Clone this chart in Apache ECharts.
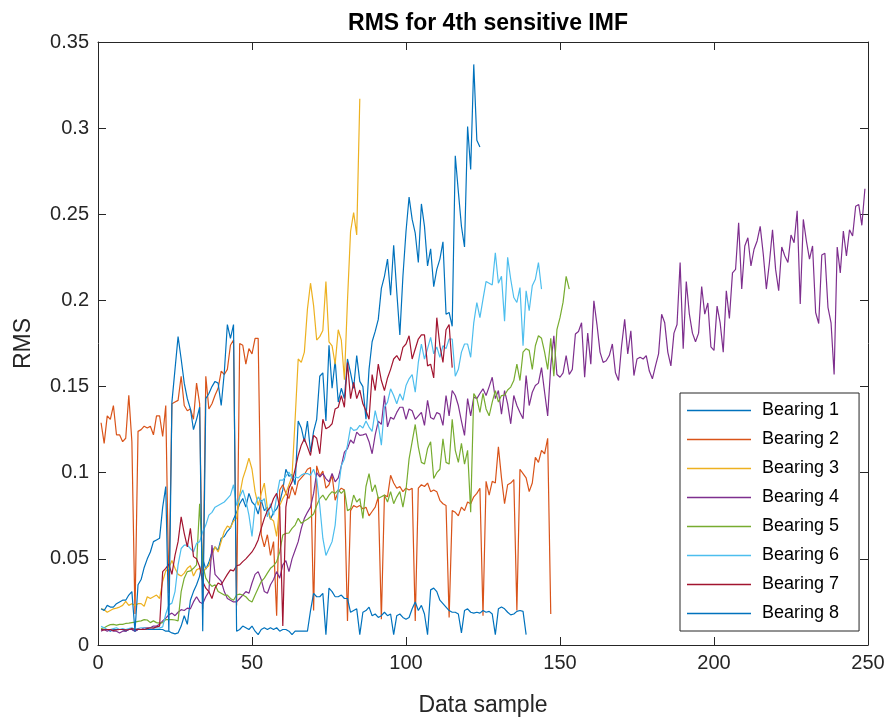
<!DOCTYPE html>
<html>
<head>
<meta charset="utf-8">
<script src="https://cdn.jsdelivr.net/npm/echarts@6/dist/echarts.min.js"></script>
<style>html,body{margin:0;padding:0;background:#fff}#c{width:892px;height:722px}</style>
</head>
<body>
<div id="c"></div>
<script>
const seriesNames = ['Bearing 1','Bearing 2','Bearing 3','Bearing 4','Bearing 5','Bearing 6','Bearing 7','Bearing 8'];
const xTicks = [0, 50, 100, 150, 200, 250];
const yTicks = [0, 0.05, 0.1, 0.15, 0.2, 0.25, 0.3, 0.35];

const bearing1 = [0.009,0.009,0.009,0.008,0.009,0.009,0.009,0.009,0.008,0.009,0.009,0.008,0.009,0.009,0.009,0.009,0.009,0.009,0.009,0.009,
0.009,0.008,0.008,0.007,0.0065,0.007,0.011,0.017,0.012,0.026,
0.031,0.035,0.040,0.050,0.044,0.048,0.054,0.057,0.055,0.062,
0.063,0.066,0.068,0.073,0.077,0.082,0.085,0.080,0.088,0.083,
0.081,0.076,0.084,0.078,0.080,0.073,0.077,0.079,0.083,0.090,
0.102,0.098,0.099,0.093,0.130,0.126,0.118,0.130,0.112,0.124,
0.131,0.156,0.158,0.130,0.174,0.149,0.165,0.141,0.149,0.143,
0.166,0.158,0.149,0.168,0.153,0.150,0.131,0.160,0.176,0.182,
0.189,0.207,0.214,0.224,0.203,0.232,0.205,0.180,0.214,0.240,
0.260,0.247,0.239,0.222,0.256,0.243,0.220,0.230,0.208,0.218,
0.224,0.234,0.192,0.193,0.185,0.284,0.263,0.243,0.231,0.301,
0.276,0.337,0.293,0.289];

const bearing2 = [0.129,0.117,0.133,0.131,0.139,0.122,0.122,0.118,0.120,0.145,
0.118,0.018,0.124,0.125,0.127,0.126,0.127,0.122,0.133,0.133,
0.121,0.139,0.030,0.140,0.141,0.142,0.156,0.139,0.136,0.137,
0.131,0.152,0.140,0.021,0.156,0.137,0.140,0.145,0.149,0.159,
0.157,0.160,0.174,0.177,0.023,0.175,0.174,0.163,0.172,0.169,
0.178,0.178,0.064,0.057,0.064,0.052,0.060,0.017,0.090,0.093,
0.088,0.085,0.092,0.087,0.095,0.097,0.099,0.102,0.103,0.020,
0.104,0.098,0.101,0.091,0.093,0.0985,0.084,0.089,0.091,0.090,
0.014,0.078,0.081,0.080,0.081,0.079,0.080,0.075,0.0775,0.080,
0.086,0.015,0.087,0.086,0.0985,0.094,0.091,0.092,0.089,0.091,
0.090,0.091,0.014,0.091,0.093,0.092,0.094,0.089,0.090,0.089,
0.084,0.082,0.081,0.016,0.078,0.077,0.075,0.080,0.078,0.083,
0.082,0.086,0.088,0.091,0.017,0.095,0.087,0.095,0.094,0.115,
0.097,0.082,0.093,0.094,0.096,0.020,0.102,0.0995,0.097,0.089,
0.094,0.109,0.106,0.113,0.111,0.120,0.018];

const bearing3 = [0.021,0.0205,0.019,0.020,0.021,0.0214,0.022,0.023,0.0253,0.023,
0.024,0.023,0.024,0.024,0.0225,0.028,0.027,0.028,0.029,0.027,
0.037,0.043,0.0445,0.049,0.0445,0.041,0.040,0.0417,0.0445,0.046,
0.040,0.0436,0.0445,0.042,0.0445,0.046,0.052,0.057,0.054,0.060,
0.066,0.069,0.068,0.072,0.0735,0.087,0.0966,0.102,0.1085,0.102,
0.089,0.081,0.088,0.094,0.079,0.0735,0.072,0.063,0.081,0.085,
0.088,0.093,0.098,0.131,0.166,0.164,0.170,0.195,0.210,0.197,
0.177,0.179,0.1825,0.211,0.176,0.1736,0.163,0.183,0.177,0.154,
0.200,0.240,0.251,0.238,0.317];

const bearing4 = [0.008,0.009,0.008,0.009,0.008,0.008,0.007,0.008,0.008,0.009,
0.009,0.008,0.009,0.009,0.010,0.010,0.010,0.011,0.011,0.012,
0.014,0.0156,0.0175,0.0185,0.017,0.019,0.0205,0.020,0.0214,0.021,
0.025,0.028,0.025,0.024,0.028,0.031,0.058,0.041,0.039,0.037,
0.031,0.027,0.026,0.025,0.025,0.027,0.029,0.031,0.030,0.036,
0.041,0.0426,0.038,0.031,0.030,0.035,0.038,0.0426,0.0388,0.0465,
0.049,0.0426,0.050,0.055,0.060,0.0677,0.0735,0.077,0.080,0.088,
0.100,0.0975,0.0995,0.0966,0.0947,0.0995,0.0947,0.097,0.104,0.112,
0.114,0.119,0.117,0.1236,0.1217,0.122,0.1226,0.118,0.111,0.122,
0.130,0.128,0.1448,0.1266,0.1322,0.131,0.135,0.138,0.138,0.131,
0.137,0.136,0.131,0.133,0.135,0.1275,0.142,0.132,0.131,0.135,
0.134,0.1275,0.1448,0.133,0.1477,0.1448,0.139,0.130,0.1217,0.143,
0.133,0.1439,0.143,0.146,0.1487,0.1448,0.150,0.1554,0.143,0.1477,
0.134,0.1477,0.140,0.1284,0.1448,0.139,0.135,0.1313,0.1564,0.139,
0.1467,0.1506,0.152,0.161,0.1467,0.133,0.162,0.1795,0.157,0.1554,
0.158,0.168,0.157,0.160,0.1805,0.182,0.187,0.1554,0.181,0.163,
0.1998,0.186,0.170,0.164,0.165,0.168,0.1747,0.158,0.1535,0.1737,
0.189,0.169,0.1824,0.1564,0.166,0.167,0.166,0.168,0.159,0.1545,
0.162,0.169,0.192,0.187,0.170,0.162,0.181,0.186,0.222,0.172,
0.211,0.192,0.181,0.176,0.181,0.208,0.192,0.1985,0.173,0.171,
0.1967,0.187,0.170,0.2056,0.1896,0.216,0.218,0.245,0.2066,0.2316,
0.2364,0.220,0.2297,0.2345,0.243,0.2268,0.2066,0.222,0.241,0.218,
0.2056,0.231,0.2258,0.222,0.238,0.2335,0.252,0.198,0.247,0.2345,
0.224,0.2316,0.193,0.1866,0.2264,0.2274,0.196,0.187,0.157,0.231,
0.216,0.2403,0.2258,0.241,0.2374,0.2547,0.2557,0.2436,0.2648];

const bearing5 = [0.0095,0.010,0.011,0.0118,0.012,0.0115,0.012,0.012,0.0125,0.0127,
0.013,0.0133,0.0137,0.014,0.0147,0.0145,0.013,0.014,0.013,0.0127,
0.013,0.0147,0.0147,0.0147,0.0145,0.014,0.031,0.0388,0.0426,0.043,
0.0445,0.0465,0.082,0.0465,0.0388,0.036,0.034,0.035,0.031,0.030,
0.029,0.029,0.027,0.026,0.029,0.0295,0.029,0.028,0.026,0.025,
0.029,0.033,0.0368,0.0388,0.0417,0.0445,0.046,0.0484,0.054,0.0638,
0.0648,0.065,0.0677,0.0696,0.0735,0.0706,0.072,0.073,0.0744,0.076,
0.081,0.085,0.087,0.084,0.087,0.089,0.088,0.090,0.088,0.090,
0.078,0.079,0.087,0.083,0.085,0.0735,0.092,0.0995,0.089,0.093,
0.085,0.086,0.087,0.083,0.089,0.082,0.086,0.089,0.080,0.090,
0.108,0.118,0.128,0.115,0.106,0.105,0.114,0.118,0.0966,0.100,
0.102,0.1197,0.106,0.105,0.131,0.113,0.106,0.117,0.105,0.113,
0.077,0.146,0.143,0.135,0.146,0.137,0.133,0.141,0.1477,0.141,
0.1448,0.145,0.148,0.1497,0.1535,0.163,0.1535,0.170,0.172,0.171,
0.160,0.1737,0.1795,0.178,0.170,0.160,0.178,0.156,0.183,0.190,
0.199,0.214,0.2066];

const bearing6 = [0.0108,0.010,0.009,0.009,0.0095,0.010,0.009,0.0095,0.009,0.0095,
0.010,0.009,0.0095,0.010,0.010,0.0095,0.010,0.0098,0.010,0.0098,
0.0105,0.018,0.0233,0.0243,0.031,0.0465,0.056,0.058,0.058,0.056,
0.054,0.059,0.060,0.0657,0.0696,0.0754,0.077,0.080,0.081,0.082,
0.083,0.085,0.087,0.093,0.081,0.086,0.090,0.084,0.0754,0.063,
0.081,0.086,0.083,0.085,0.0744,0.082,0.0754,0.086,0.0957,0.0957,
0.098,0.1004,0.0966,0.0976,0.097,0.0986,0.0995,0.0995,0.0986,0.102,
0.0966,0.081,0.062,0.052,0.056,0.060,0.0696,0.090,0.104,0.108,
0.116,0.1265,0.1246,0.125,0.1275,0.126,0.130,0.1265,0.124,0.136,
0.128,0.116,0.138,0.141,0.1487,0.1448,0.140,0.1458,0.142,0.1506,
0.1545,0.157,0.1467,0.164,0.1747,0.166,0.172,0.1786,0.169,0.173,
0.167,0.1737,0.172,0.1776,0.1776,0.156,0.160,0.170,0.1747,0.1747,
0.167,0.187,0.1988,0.190,0.2007,0.211,0.210,0.209,0.2277,0.210,
0.214,0.188,0.225,0.2123,0.2017,0.1988,0.2075,0.1737,0.2056,0.194,
0.2085,0.2123,0.222,0.2066];

const bearing7 = [0.0088,0.0088,0.009,0.009,0.0085,0.0088,0.009,0.009,0.0088,0.009,
0.0095,0.009,0.0092,0.009,0.009,0.0095,0.010,0.0098,0.0105,0.011,
0.0426,0.0445,0.047,0.041,0.052,0.060,0.0744,0.0648,0.057,0.0677,
0.0513,0.050,0.0455,0.0368,0.033,0.031,0.027,0.033,0.036,0.035,
0.038,0.041,0.0436,0.043,0.046,0.0465,0.0484,0.050,0.052,0.054,
0.057,0.061,0.0677,0.0735,0.078,0.080,0.085,0.088,0.080,0.011,
0.080,0.091,0.0947,0.102,0.110,0.116,0.1197,0.115,0.110,0.1217,
0.120,0.111,0.131,0.1255,0.1265,0.1284,0.137,0.138,0.1448,0.138,
0.164,0.143,0.1525,0.143,0.148,0.140,0.136,0.131,0.157,0.1477,
0.163,0.1535,0.1477,0.155,0.160,0.166,0.168,0.165,0.1728,0.1747,
0.1795,0.166,0.1718,0.1776,0.180,0.180,0.162,0.163,0.155,0.190,
0.1737,0.164,0.183,0.186,0.161];

const bearing8 = [0.021,0.020,0.023,0.022,0.022,0.024,0.025,0.026,0.026,0.029,
0.031,0.008,0.035,0.038,0.045,0.050,0.054,0.060,0.061,0.062,
0.080,0.092,0.008,0.141,0.160,0.179,0.166,0.152,0.143,0.137,
0.125,0.131,0.138,0.008,0.143,0.146,0.150,0.153,0.152,0.139,
0.158,0.186,0.178,0.186,0.008,0.009,0.011,0.010,0.009,0.011,
0.008,0.006,0.009,0.010,0.009,0.010,0.009,0.010,0.008,0.009,
0.009,0.008,0.006,0.008,0.008,0.008,0.008,0.008,0.020,0.030,
0.028,0.028,0.030,0.006,0.033,0.031,0.028,0.028,0.029,0.027,
0.027,0.019,0.020,0.021,0.006,0.019,0.020,0.022,0.017,0.018,
0.016,0.017,0.019,0.017,0.018,0.006,0.017,0.018,0.016,0.015,
0.016,0.021,0.025,0.020,0.023,0.018,0.006,0.032,0.033,0.031,
0.026,0.024,0.022,0.020,0.019,0.019,0.018,0.007,0.020,0.021,
0.019,0.0185,0.019,0.0185,0.020,0.019,0.0195,0.018,0.006,0.021,
0.022,0.021,0.019,0.0175,0.018,0.0195,0.020,0.0195,0.006];

const allValues = [bearing1, bearing2, bearing3, bearing4, bearing5, bearing6, bearing7, bearing8];
const colors = ['#0072BD','#D95319','#EDB120','#7E2F8E','#77AC30','#4DBEEE','#A2142F','#0072BD'];

const FONT = '"Liberation Sans", Arial, Helvetica, sans-serif';
const AX = '#262626';

const series = allValues.map((vals, k) => ({
  name: seriesNames[k],
  type: 'line',
  xAxisIndex: 0, yAxisIndex: 0,
  data: vals.map((v, i) => [i + 1, v]),
  symbol: 'none',
  showSymbol: false,
  lineStyle: { width: 1.2, color: colors[k] },
  itemStyle: { color: colors[k] },
  emphasis: { disabled: true },
  animation: false
}));

const baseX = {
  type: 'value', min: xTicks[0], max: xTicks[xTicks.length - 1], interval: 50,
  splitLine: { show: false },
  axisLine: { show: true, onZero: false, lineStyle: { color: AX, width: 1 } },
  axisTick: { show: true, inside: true, length: 8, lineStyle: { color: AX } }
};
const baseY = {
  type: 'value', min: yTicks[0], max: yTicks[yTicks.length - 1], interval: 0.05,
  splitLine: { show: false },
  axisLine: { show: true, onZero: false, lineStyle: { color: AX, width: 1 } },
  axisTick: { show: true, inside: true, length: 8, lineStyle: { color: AX } }
};

const chart = echarts.init(document.getElementById('c'), null, { renderer: 'canvas' });
chart.setOption({
  backgroundColor: '#fff',
  animation: false,
  color: colors,
  title: {
    text: 'RMS for 4th sensitive IMF',
    left: 483, top: 7, textAlign: 'center',
    textStyle: { fontFamily: FONT, fontSize: 23, fontWeight: 'bold', color: '#000' }
  },
  grid: { left: 98, right: 24, top: 42, bottom: 75, containLabel: false },
  xAxis: [
    Object.assign({}, baseX, {
      position: 'bottom',
      name: 'Data sample', nameLocation: 'middle', nameGap: 49,
      nameTextStyle: { fontFamily: FONT, fontSize: 23, color: AX },
      axisLabel: { show: true, fontFamily: FONT, fontSize: 20, color: AX, margin: 8 }
    }),
    Object.assign({}, baseX, { position: 'top', axisLabel: { show: false } })
  ],
  yAxis: [
    Object.assign({}, baseY, {
      position: 'left',
      name: 'RMS', nameLocation: 'middle', nameGap: 63, nameRotate: 90,
      nameTextStyle: { fontFamily: FONT, fontSize: 23, color: AX },
      axisLabel: { show: true, fontFamily: FONT, fontSize: 20, color: AX, margin: 9 }
    }),
    Object.assign({}, baseY, { position: 'right', axisLabel: { show: false } })
  ],
  legend: {
    orient: 'vertical',
    left: 680, top: 393,
    padding: [8, 20, 8, 7],
    itemGap: 10,
    itemWidth: 64, itemHeight: 1.5,
    icon: 'rect',
    backgroundColor: '#fff',
    borderColor: AX, borderWidth: 1,
    textStyle: { fontFamily: FONT, fontSize: 18, color: '#000', lineHeight: 19, padding: [0, 0, 0, 6] },
    data: seriesNames.map((n, k) => ({ name: n, itemStyle: { color: colors[k] } }))
  },
  series: series
});
</script>
</body>
</html>
